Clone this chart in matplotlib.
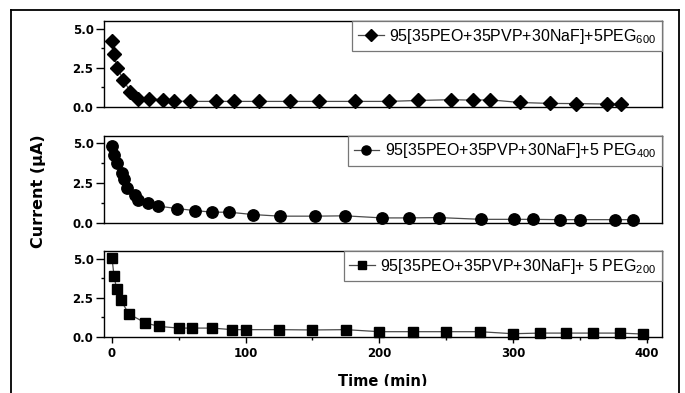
import numpy as np
import matplotlib
matplotlib.use("Agg")
import matplotlib.pyplot as plt
from matplotlib.ticker import MultipleLocator, FormatStrFormatter
from matplotlib.lines import Line2D
from matplotlib.patches import Rectangle

plt.rcParams['font.family'] = ['DejaVu Sans']
plt.rcParams['mathtext.fontset'] = 'custom'
plt.rcParams['mathtext.rm'] = 'Liberation Sans'
plt.rcParams['mathtext.it'] = 'Liberation Sans:italic'

# PEG600 (diamonds)
t_600 = [0, 1.3, 3.9, 8.5, 13.7, 19.6, 27.5, 38, 46.5, 58.6, 77.6, 91.6, 110,
         133, 155, 182, 207, 229, 254, 270, 283, 305, 328, 347, 370, 381]
i_600 = [4.2, 3.4, 2.48, 1.73, 0.95, 0.48, 0.5, 0.45, 0.36, 0.34, 0.34, 0.34, 0.34,
         0.34, 0.34, 0.34, 0.34, 0.4, 0.45, 0.42, 0.44, 0.27, 0.21, 0.2, 0.17, 0.17]

# PEG400 (circles)
t_400 = [0, 1.5, 3.7, 7.3, 9.3, 11.5, 17.5, 19.6, 27, 34.7, 48.3, 62, 75, 87.5,
         105.7, 125.5, 151.5, 174.5, 202, 222, 245, 276, 301, 315, 335, 350, 376, 390]
i_400 = [4.85, 4.25, 3.75, 3.17, 2.76, 2.22, 1.73, 1.45, 1.28, 1.06, 0.91, 0.78, 0.68, 0.68,
         0.53, 0.43, 0.43, 0.45, 0.32, 0.32, 0.34, 0.23, 0.23, 0.23, 0.21, 0.21, 0.21, 0.21]

# PEG200 (squares)
t_200 = [0, 1.5, 3.5, 6.5, 12.5, 25, 35, 50, 60, 75, 90, 100, 125, 150, 175,
         200, 225, 250, 275, 300, 320, 340, 360, 380, 397]
i_200 = [5.05, 3.9, 3.05, 2.38, 1.48, 0.9, 0.68, 0.57, 0.57, 0.57, 0.47, 0.47, 0.47, 0.45, 0.47,
         0.34, 0.34, 0.34, 0.34, 0.21, 0.25, 0.25, 0.25, 0.25, 0.19]

labels = [r'95[35PEO+35PVP+30NaF]+5PEG$_{600}$',
          r'95[35PEO+35PVP+30NaF]+5 PEG$_{400}$',
          r'95[35PEO+35PVP+30NaF]+ 5 PEG$_{200}$']

W, H = 685, 393
fig = plt.figure(figsize=(W / 100, H / 100), dpi=100)

# axes boxes in pixels: (top, bottom)
left_px, right_px = 104, 662
boxes = [(21, 106.7), (135.5, 223), (251, 337)]
series = [(t_600, i_600, 'D', 7.4), (t_400, i_400, 'o', 8.2), (t_200, i_200, 's', 7.0)]

axes = []
for k, ((top, bot), (t, cur, mk, ms)) in enumerate(zip(boxes, series)):
    ax = fig.add_axes([left_px / W, 1 - bot / H, (right_px - left_px) / W, (bot - top) / H])
    ax.plot(t, cur, color='#4a4a4a', lw=0.9, marker=mk, ms=ms,
            mfc='black', mec='black', clip_on=False, label=labels[k])
    ax.set_xlim(-6, 411.5)
    ax.set_ylim(0, 5.5)
    ax.yaxis.set_major_locator(MultipleLocator(2.5))
    ax.yaxis.set_minor_locator(MultipleLocator(1.25))
    ax.yaxis.set_major_formatter(FormatStrFormatter('%.1f'))
    ax.xaxis.set_major_locator(MultipleLocator(100))
    ax.xaxis.set_minor_locator(MultipleLocator(50))
    ax.tick_params(axis='y', which='major', direction='out', length=6, width=1, pad=1.5,
                   labelsize=8.5)
    ax.tick_params(axis='y', which='minor', direction='out', length=2.5, width=1)
    for lab in ax.get_yticklabels():
        lab.set_fontweight('bold')
    if k < 2:
        ax.tick_params(axis='x', which='both', bottom=False, labelbottom=False)
    else:
        ax.tick_params(axis='x', which='major', direction='out', length=4.5, width=1,
                       pad=3, labelsize=8.5)
        ax.tick_params(axis='x', which='minor', direction='out', length=2.5, width=1)
        for lab in ax.get_xticklabels():
            lab.set_fontweight('bold')
    for sp in ax.spines.values():
        sp.set_linewidth(1.0)
    leg = ax.legend(loc='upper right', borderaxespad=0, fancybox=False,
                    edgecolor='#777777', framealpha=1, handlelength=1.6,
                    handletextpad=0.35, borderpad=0.35, markerscale=0.8,
                    prop={'family': 'Liberation Sans', 'size': 11.5})
    leg.get_frame().set_linewidth(0.9)
    axes.append(ax)

fig.text(38 / W, 1 - 191 / H, 'Current (\u03bcA)', rotation=90, ha='center', va='center',
         fontsize=11.5, fontweight='bold')
fig.text(383 / W, 7 / H, 'Time (min)', ha='center', va='baseline',
         fontsize=10.5, fontweight='bold')

# the scan cuts the x label at the bottom
fig.patches.append(Rectangle((12 / W, 0), (678 - 12) / W, 7 / H, transform=fig.transFigure,
                             facecolor='white', edgecolor='none', zorder=5))
# outer frame
fx0, fx1, fy1 = 11 / W, 679 / W, 1 - 10 / H
for xs, ys in [([fx0, fx0], [0, fy1]), ([fx1, fx1], [0, fy1]), ([fx0, fx1], [fy1, fy1])]:
    fig.lines.append(Line2D(xs, ys, transform=fig.transFigure, color='black', lw=1.3, zorder=6))

fig.savefig('out.png', dpi=100)
